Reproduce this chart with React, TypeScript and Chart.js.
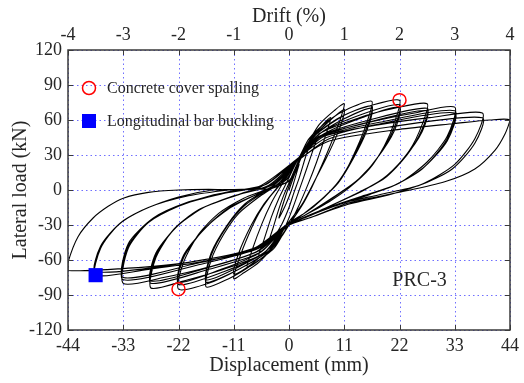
import React, { useEffect, useRef } from "react";
import { Chart, registerables } from "chart.js";

Chart.register(...registerables);

type P = [number, number];

const dispTicks = [-44, -33, -22, -11, 0, 11, 22, 33, 44];
const driftTicks = [-4, -3, -2, -1, 0, 1, 2, 3, 4];
const loadTicks = [-120, -90, -60, -30, 0, 30, 60, 90, 120];

// Hysteresis path (displacement mm, load kN), split by amplitude level
const loopsSmall: P[] = [
  [0, 0], [1, 12], [2, 22], [1.4, 13], [0.5, 0], [-0.6, -12], [-1.6, -21], [-2, -24], [-1.4, -15], [-0.5, -3], [0.4, 8],
  [1.5, 20], [3, 32], [4, 38], [3.2, 27], [2, 10], [1, -2], [0, -15], [-1.5, -30], [-3, -40], [-4, -44], [-3.2, -33], [-2, -16], [-1, -4], [0.4, 10],
  [2, 26], [4, 40], [6, 50], [5, 37], [3.5, 18], [2.2, 2], [0.8, -15], [-0.6, -30], [-2.5, -44], [-4.5, -52], [-6, -56], [-5, -43], [-3.5, -23], [-2, -7], [-0.4, 7],
  [1.5, 24], [3.5, 38], [5.5, 50], [8.3, 62], [7.3, 47], [5.5, 24], [3.8, 5], [2, -13], [0, -30], [-2.5, -46], [-5, -57], [-8.3, -66], [-7.3, -51], [-5.4, -29], [-3.5, -11], [-1.5, 4],
];

const loops11: P[] = [
  [2, 28], [4, 42], [6, 56], [9, 68], [11, 74], [10, 58], [8, 36], [6, 16], [4.5, 2], [2.5, -14], [0, -30], [-3, -48], [-6, -62], [-9, -71], [-11, -76], [-10, -60], [-8, -38], [-6, -20], [-4, -7], [-1.5, 6],
  [2, 28], [4.5, 44], [7.5, 57], [11, 69], [10, 52], [7.5, 28], [5, 7], [2.5, -13], [-0.5, -30], [-3.5, -48], [-7, -62], [-11, -72], [-10, -54], [-7.5, -30], [-5, -12], [-2, 4],
];

const loops16: P[] = [
  [2, 28], [4, 44], [8, 60], [12, 70], [16.5, 76], [15.5, 58], [13.5, 36], [11, 14], [8.5, 0], [5, -14], [0, -30], [-3, -50], [-8, -66], [-12, -76], [-16.5, -83], [-15.5, -60], [-13, -38], [-10, -20], [-6, -6], [-2, 6],
  [2, 28], [5, 46], [10, 62], [16.5, 72], [15.5, 54], [13, 30], [10, 8], [7, -6], [3, -20], [-0.5, -30], [-4, -52], [-10, -68], [-16.5, -79], [-15.5, -56], [-12.5, -32], [-9, -14], [-5, -2], [-1, 8],
  [2, 28], [5.5, 46], [11, 61], [16.5, 70], [15.5, 51], [12.8, 27], [9.8, 6], [6.5, -8], [3, -20], [-0.5, -30], [-4.5, -52], [-10.5, -67], [-16.5, -77], [-15.5, -54], [-12.3, -30], [-8.8, -12], [-4.5, 0], [-0.5, 9],
];

const loops22: P[] = [
  [2, 28], [5, 46], [11, 64], [16, 72], [22, 77], [21, 58], [19, 38], [16, 18], [12, 2], [8, -10], [3, -22], [-0.5, -30], [-4, -52], [-10, -68], [-16, -80], [-22, -85], [-21, -62], [-18, -38], [-14, -20], [-9, -7], [-3, 4],
  [2, 28], [6, 48], [14, 64], [22, 73], [21, 54], [18, 30], [14, 10], [9, -6], [3, -22], [-0.5, -30], [-5, -54], [-13, -70], [-22, -81], [-21, -58], [-17, -34], [-12, -16], [-6, -3], [0, 8],
  [2.5, 28], [6.5, 47], [14.5, 62], [22, 71], [21, 51], [17.5, 27], [13.5, 8], [8.5, -7], [3, -22], [-0.5, -30], [-5.5, -53], [-13.5, -68], [-22, -79], [-21, -56], [-16.5, -32], [-11.5, -14], [-5.5, -2], [0.5, 9],
];

const loops27: P[] = [
  [2.5, 28], [6, 48], [14, 62], [21, 70], [27.5, 74], [26.5, 56], [24, 34], [20, 14], [15, 0], [9, -12], [3, -24], [-0.5, -30], [-5, -54], [-13, -68], [-21, -78], [-27.5, -84], [-26.5, -58], [-23, -34], [-18, -17], [-11, -5], [-4, 4],
  [2, 28], [6, 46], [16, 60], [27.5, 70], [26.5, 52], [23.5, 30], [19, 10], [13, -4], [6, -18], [0, -30], [-6, -54], [-16, -68], [-27.5, -80], [-26.5, -56], [-22.5, -32], [-17, -15], [-10, -4], [-3, 5],
  [2, 28], [6.5, 46], [16.5, 59], [27.5, 68], [26.5, 50], [23, 28], [18.5, 9], [12.5, -5], [6, -18], [0, -30], [-6.5, -53], [-16.5, -67], [-27.5, -78], [-26.5, -54], [-22, -30], [-16.5, -14], [-9.5, -3], [-2.5, 6],
];

const loops33: P[] = [
  [2, 28], [6, 46], [16, 58], [25, 66], [33, 71], [31.5, 46], [27.5, 24], [22, 6], [16, -4], [9, -14], [3, -24], [0, -30], [-6, -52], [-16, -66], [-25, -75], [-33, -80], [-32, -50], [-28, -28], [-22, -14], [-15, -4], [-6, 3],
  [2, 28], [7, 46], [18, 58], [33, 68], [31.5, 44], [27, 20], [21, 4], [14, -6], [6, -18], [0, -30], [-6, -50], [-18, -64], [-33, -77], [-32, -48], [-27.5, -26], [-21, -12], [-13, -3], [-5, 4],
  [2, 28], [7.5, 45], [18.5, 57], [33, 66], [31.5, 42], [26.5, 18], [20.5, 3], [13.5, -7], [6, -18], [0, -30], [-6.5, -50], [-18.5, -63], [-33, -75], [-32, -46], [-27, -24], [-20.5, -11], [-12.5, -2], [-4.5, 5],
];

const loops38: P[] = [
  [2, 28], [7, 46], [18, 56], [28, 62], [38.5, 66], [37, 44], [33, 22], [27, 6], [20, -4], [12, -12], [4, -24], [0, -30], [-6, -50], [-18, -62], [-28, -68], [-38.5, -73], [-37.5, -50], [-34, -30], [-29, -17], [-22, -6], [-15, 0], [-6, 2],
  [2, 26], [8, 44], [20, 54], [38.5, 62], [37, 40], [32.5, 18], [26, 4], [18, -4], [10, -12], [3, -24], [-0.5, -30], [-7, -50], [-20, -62], [-38.5, -70], [-37.5, -48], [-33.5, -28], [-28, -15], [-20, -5], [-12, 0], [-4, 3],
];

const loop44: P[] = [
  [2, 26], [8, 42], [22, 52], [33, 57], [40, 60], [44, 60], [43, 48], [41, 34], [37, 18], [31, 7], [22, -2], [12, -11], [4, -24], [0, -30],
  [-7, -50], [-20, -62], [-32, -67], [-44, -69], [-44, -62], [-42, -40], [-39, -24], [-36, -14], [-33, -7], [-28, -2], [-22, 0], [-16, 0.5], [-10, 0], [-4, 1],
];

const spallingPoints: P[] = [[22, 77], [-22, -85]];
const bucklingPoints: P[] = [[-38.5, -73]];

const legendLabels = ["Concrete cover spalling", "Longitudinal bar buckling"];
const specimenLabel = "PRC-3";

const SERIF = "'Liberation Serif', 'Times New Roman', serif";
const TEXT = "#262626";

const toXY = (arr: P[]) => arr.map(([x, y]) => ({ x, y }));

const decorPlugin = {
  id: "decor",
  beforeDatasetsDraw(chart: any) {
    const { ctx, chartArea: a, scales } = chart;
    const xs = scales.x;
    const ys = scales.y;
    ctx.save();
    ctx.strokeStyle = "rgba(95,95,255,0.9)";
    ctx.lineWidth = 1;
    ctx.setLineDash([1.5, 3]);
    for (const v of dispTicks) {
      const px = Math.round(xs.getPixelForValue(v)) + 0.5;
      ctx.beginPath();
      ctx.moveTo(px, a.top);
      ctx.lineTo(px, a.bottom);
      ctx.stroke();
    }
    for (const v of loadTicks) {
      const py = Math.round(ys.getPixelForValue(v)) + 0.5;
      ctx.beginPath();
      ctx.moveTo(a.left, py);
      ctx.lineTo(a.right, py);
      ctx.stroke();
    }
    ctx.restore();
  },
  afterDraw(chart: any) {
    const { ctx, chartArea: a, scales } = chart;
    const xs = scales.x;
    const ys = scales.y;
    ctx.save();
    // frame
    ctx.strokeStyle = "#3a3a3a";
    ctx.lineWidth = 1.5;
    ctx.setLineDash([]);
    ctx.strokeRect(a.left, a.top, a.right - a.left, a.bottom - a.top);
    // inner ticks
    ctx.lineWidth = 1;
    const t = 5;
    for (const v of dispTicks) {
      const px = Math.round(xs.getPixelForValue(v)) + 0.5;
      ctx.beginPath();
      ctx.moveTo(px, a.bottom);
      ctx.lineTo(px, a.bottom - t);
      ctx.moveTo(px, a.top);
      ctx.lineTo(px, a.top + t);
      ctx.stroke();
    }
    for (const v of loadTicks) {
      const py = Math.round(ys.getPixelForValue(v)) + 0.5;
      ctx.beginPath();
      ctx.moveTo(a.left, py);
      ctx.lineTo(a.left + t, py);
      ctx.moveTo(a.right, py);
      ctx.lineTo(a.right - t, py);
      ctx.stroke();
    }
    // legend
    const lx = a.left + 21;
    const ly1 = a.top + 38;
    const ly2 = a.top + 71;
    ctx.beginPath();
    ctx.strokeStyle = "#ff0000";
    ctx.lineWidth = 1.5;
    ctx.arc(lx, ly1, 6.5, 0, Math.PI * 2);
    ctx.stroke();
    ctx.fillStyle = "#0000ff";
    ctx.fillRect(lx - 7, ly2 - 7, 14, 14);
    ctx.fillStyle = TEXT;
    ctx.font = `16px ${SERIF}`;
    ctx.textAlign = "left";
    ctx.textBaseline = "middle";
    ctx.fillText(legendLabels[0], lx + 18, ly1 + 1);
    ctx.fillText(legendLabels[1], lx + 18, ly2 + 1);
    // specimen label
    ctx.font = `20px ${SERIF}`;
    ctx.textAlign = "center";
    ctx.fillText(specimenLabel, xs.getPixelForValue(26), ys.getPixelForValue(-78));
    ctx.restore();
  },
};

export default function App() {
  const ref = useRef<HTMLCanvasElement | null>(null);
  useEffect(() => {
    if (!ref.current) return;
    const path = [...loopsSmall, ...loops11, ...loops16, ...loops22, ...loops27, ...loops33, ...loops38, ...loop44];
    const tickFont = { family: SERIF, size: 18 };
    const titleFont = { family: SERIF, size: 20 };
    const chart = new Chart(ref.current, {
      type: "scatter",
      data: {
        datasets: [
          {
            label: "Hysteresis",
            data: toXY(path),
            showLine: true,
            borderColor: "#000000",
            borderWidth: 1.1,
            pointRadius: 0,
            tension: 0.25,
            order: 2,
          },
          {
            label: legendLabels[0],
            data: toXY(spallingPoints),
            showLine: false,
            pointStyle: "circle",
            pointRadius: 6.5,
            borderColor: "#ff0000",
            borderWidth: 1.5,
            backgroundColor: "rgba(0,0,0,0)",
            order: 1,
          },
          {
            label: legendLabels[1],
            data: toXY(bucklingPoints),
            showLine: false,
            pointStyle: "rect",
            pointRadius: 10,
            borderWidth: 0,
            borderColor: "#0000ff",
            backgroundColor: "#0000ff",
            order: 0,
          },
        ],
      },
      options: {
        animation: false,
        responsive: false,
        events: [],
        layout: { padding: { left: 0, right: 13, top: 0, bottom: 0 } },
        plugins: { legend: { display: false }, tooltip: { enabled: false } },
        scales: {
          x: {
            type: "linear",
            position: "bottom",
            min: -44,
            max: 44,
            afterBuildTicks: (s: any) => { s.ticks = dispTicks.map((v) => ({ value: v })); },
            afterFit: (s: any) => { s.height = 53; },
            grid: { display: false, drawTicks: false },
            border: { display: false },
            ticks: { font: tickFont, color: TEXT, padding: 5, maxRotation: 0, autoSkip: false },
            title: { display: true, text: "Displacement (mm)", font: titleFont, color: TEXT, padding: { top: 0, bottom: 5 } },
          },
          x2: {
            type: "linear",
            position: "top",
            min: -4,
            max: 4,
            afterBuildTicks: (s: any) => { s.ticks = driftTicks.map((v) => ({ value: v })); },
            afterFit: (s: any) => { s.height = 50; },
            grid: { display: false, drawTicks: false },
            border: { display: false },
            ticks: { font: tickFont, color: TEXT, padding: 4, maxRotation: 0, autoSkip: false },
            title: { display: true, text: "Drift (%)", font: titleFont, color: TEXT, padding: { top: 5, bottom: 0 } },
          },
          y: {
            type: "linear",
            position: "left",
            min: -120,
            max: 120,
            afterBuildTicks: (s: any) => { s.ticks = loadTicks.map((v) => ({ value: v })); },
            afterFit: (s: any) => { s.width = 68; },
            grid: { display: false, drawTicks: false },
            border: { display: false },
            ticks: { font: tickFont, color: TEXT, padding: 6, autoSkip: false },
            title: { display: true, text: "Lateral load (kN)", font: titleFont, color: TEXT, padding: { top: 9, bottom: 0 } },
          },
        },
      },
      plugins: [decorPlugin],
    } as any);
    return () => chart.destroy();
  }, []);
  return (
    <div style={{ position: "fixed", left: 0, top: 0, width: 524, height: 383, background: "#ffffff" }}>
      <canvas ref={ref} width={524} height={383} style={{ display: "block" }} />
    </div>
  );
}
